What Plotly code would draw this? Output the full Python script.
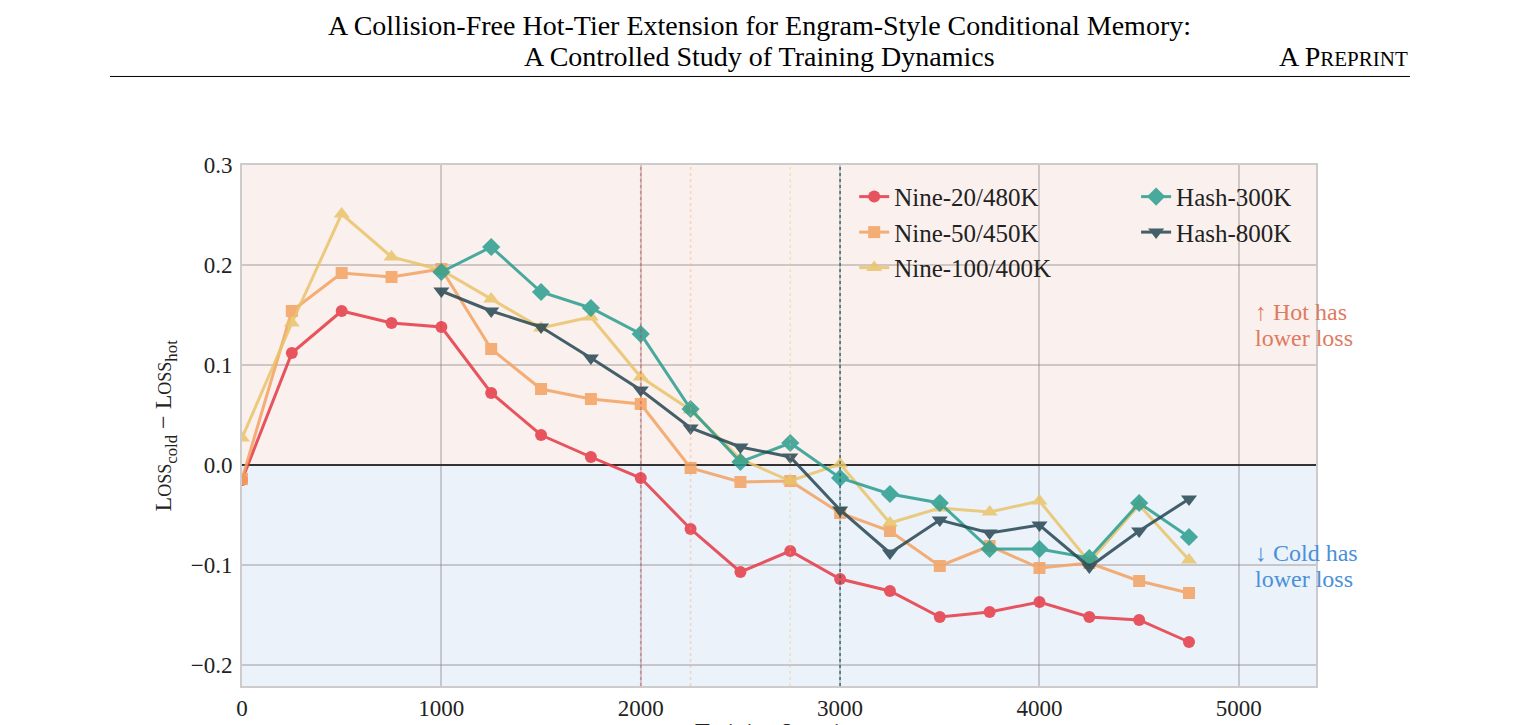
import plotly.graph_objects as go

# ---------------- data ----------------
iters_nine = [0, 250, 500, 750, 1000, 1250, 1500, 1750, 2000, 2250, 2500, 2750,
              3000, 3250, 3500, 3750, 4000, 4250, 4500, 4750]
iters_hash = [1000, 1250, 1500, 1750, 2000, 2250, 2500, 2750,
              3000, 3250, 3500, 3750, 4000, 4250, 4500, 4750]

nine_20 = [-0.015, 0.112, 0.154, 0.142, 0.138, 0.072, 0.030, 0.008, -0.013, -0.064,
           -0.107, -0.086, -0.114, -0.126, -0.152, -0.147, -0.137, -0.152, -0.155, -0.177]
nine_50 = [-0.014, 0.154, 0.192, 0.188, 0.196, 0.116, 0.076, 0.066, 0.061, -0.003,
           -0.017, -0.016, -0.048, -0.066, -0.101, -0.081, -0.103, -0.098, -0.116, -0.128]
nine_100 = [0.027, 0.142, 0.251, 0.208, 0.195, 0.166, 0.137, 0.148, 0.088, 0.055,
            0.006, -0.016, 0.001, -0.058, -0.043, -0.047, -0.036, -0.097, -0.040, -0.095]
hash_300 = [0.193, 0.218, 0.173, 0.157, 0.131, 0.056, 0.003, 0.022,
            -0.013, -0.029, -0.038, -0.084, -0.084, -0.093, -0.038, -0.072]
hash_800 = [0.174, 0.154, 0.138, 0.107, 0.075, 0.037, 0.018, 0.008,
            -0.045, -0.088, -0.055, -0.068, -0.060, -0.102, -0.066, -0.034]

series_names = ["Nine-20/480K", "Nine-50/450K", "Nine-100/400K", "Hash-300K", "Hash-800K"]
crossover_iters = [2000, 2250, 2750, 3000, 3000]

x_ticks = [0, 1000, 2000, 3000, 4000, 5000]
y_ticks = [-0.2, -0.1, 0.0, 0.1, 0.2, 0.3]

# ---------------- style ----------------
colors = ["#e63946", "#f4a261", "#e9c46a", "#2a9d8f", "#264653"]
symbols = ["circle", "square", "triangle-up", "diamond", "triangle-down"]
msizes = [12, 12, 14, 14, 14]
vline_colors = ["rgba(230,57,70,0.45)", "rgba(244,162,97,0.35)", "rgba(233,196,106,0.35)",
                "rgba(42,157,143,0.6)", "rgba(38,70,83,0.5)"]
FONT = "Liberation Serif, Times New Roman, serif"
X_RANGE = [0, 5387]
Y_RANGE = [-0.221, 0.3]

fig = go.Figure()

xs = [iters_nine, iters_nine, iters_nine, iters_hash, iters_hash]
ys = [nine_20, nine_50, nine_100, hash_300, hash_800]
for i in range(5):
    fig.add_trace(go.Scatter(
        x=xs[i], y=ys[i], name=series_names[i], mode="lines+markers",
        line=dict(color=colors[i], width=3),
        marker=dict(symbol=symbols[i], size=msizes[i], color=colors[i]),
        opacity=0.85,
        legend="legend" if i < 3 else "legend2",
        legendgroup=series_names[i],
    ))

shapes = [
    dict(type="rect", xref="paper", yref="y", x0=0, x1=1, y0=0, y1=Y_RANGE[1],
         fillcolor="#faf0ed", line=dict(width=0), layer="below"),
    dict(type="rect", xref="paper", yref="y", x0=0, x1=1, y0=Y_RANGE[0], y1=0,
         fillcolor="#ebf2fa", line=dict(width=0), layer="below"),
]
for xv, c in zip(crossover_iters, vline_colors):
    shapes.append(dict(type="line", xref="x", yref="paper", x0=xv, x1=xv, y0=0, y1=1,
                       line=dict(color=c, width=1.6, dash="dot"), layer="above"))
# header rule
shapes.append(dict(type="line", xref="paper", yref="paper", x0=-0.1229, x1=1.0875,
                   y0=1.1699, y1=1.1699, line=dict(color="black", width=1)))

annotations = [
    dict(text="A Collision-Free Hot-Tier Extension for Engram-Style Conditional Memory:",
         xref="paper", yref="paper", x=0.4823, y=1.2687, xanchor="center", yanchor="middle",
         showarrow=False, font=dict(family=FONT, size=28, color="black")),
    dict(text="A Controlled Study of Training Dynamics",
         xref="paper", yref="paper", x=0.4823, y=1.2073, xanchor="center", yanchor="middle",
         showarrow=False, font=dict(family=FONT, size=28, color="black")),
    dict(text="A P<span style='font-size:21px'>REPRINT</span>",
         xref="paper", yref="paper", x=1.0875, y=1.2073, xanchor="right", yanchor="middle",
         showarrow=False, font=dict(family=FONT, size=28, color="black")),
    dict(text="↑ Hot has", xref="paper", yref="paper", x=0.9418, y=0.7179,
         xanchor="left", yanchor="middle", showarrow=False,
         font=dict(family=FONT, size=24, color="#e07a5f")),
    dict(text="lower loss", xref="paper", yref="paper", x=0.9418, y=0.6679,
         xanchor="left", yanchor="middle", showarrow=False,
         font=dict(family=FONT, size=24, color="#e07a5f")),
    dict(text="↓ Cold has", xref="paper", yref="paper", x=0.9418, y=0.2553,
         xanchor="left", yanchor="middle", showarrow=False,
         font=dict(family=FONT, size=24, color="#4a90d9")),
    dict(text="lower loss", xref="paper", yref="paper", x=0.9418, y=0.2053,
         xanchor="left", yanchor="middle", showarrow=False,
         font=dict(family=FONT, size=24, color="#4a90d9")),
    dict(text="L<span style='font-size:18px'>OSS</span><sub>cold</sub> − L<span style='font-size:18px'>OSS</span><sub>hot</sub>",
         xref="paper", yref="paper", x=-0.0717, y=0.5, xanchor="center", yanchor="middle",
         textangle=-90, showarrow=False, font=dict(family=FONT, size=24, color="#222")),
    dict(text="Training Iteration", xref="paper", yref="paper", x=0.5, y=-0.058,
         xanchor="center", yanchor="top", showarrow=False,
         font=dict(family=FONT, size=24, color="#222")),
]

axis_common = dict(
    showgrid=True, gridcolor="rgba(140,130,130,0.38)", gridwidth=1.5,
    showline=True, linecolor="#cccccc", linewidth=2, mirror=True,
    ticks="", tickfont=dict(family=FONT, size=23, color="#222"),
    automargin=False,
)

fig.update_layout(
    width=1530, height=725,
    margin=dict(l=242, r=214, t=165, b=39),
    paper_bgcolor="white", plot_bgcolor="white",
    font=dict(family=FONT, size=24, color="#222"),
    xaxis=dict(range=X_RANGE, tickvals=x_ticks, zeroline=False, **axis_common),
    yaxis=dict(range=Y_RANGE, tickvals=y_ticks, tickformat=".1f", ticklabelstandoff=3,
               zeroline=True, zerolinecolor="#333333", zerolinewidth=2, **axis_common),
    shapes=shapes,
    annotations=annotations,
    legend=dict(x=0.5700, y=0.983, xanchor="left", yanchor="top",
                bgcolor="rgba(0,0,0,0)", borderwidth=0, traceorder="grouped",
                tracegroupgap=0, font=dict(family=FONT, size=25, color="#222")),
    legend2=dict(x=0.8325, y=0.983, xanchor="left", yanchor="top",
                 bgcolor="rgba(0,0,0,0)", borderwidth=0, traceorder="grouped",
                 tracegroupgap=0, font=dict(family=FONT, size=25, color="#222")),
    showlegend=True,
)

fig.write_html("out.html")
